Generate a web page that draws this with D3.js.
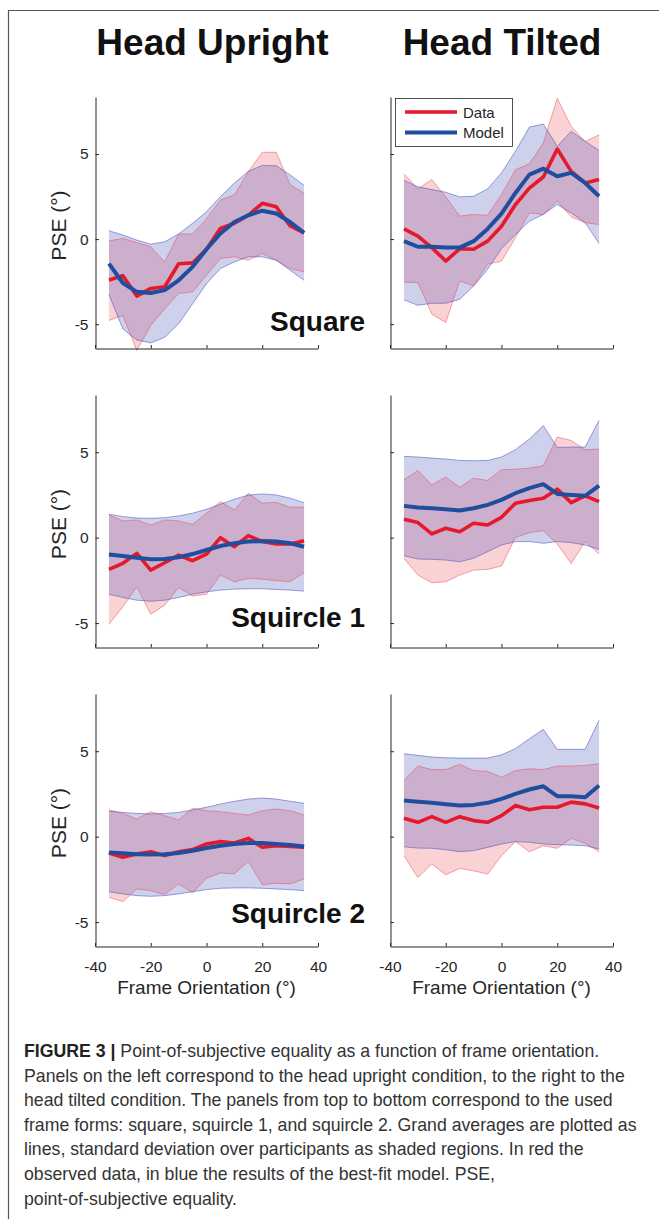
<!DOCTYPE html>
<html>
<head>
<meta charset="utf-8">
<script src="https://cdn.jsdelivr.net/npm/d3@7"></script>
<style>
  html, body { margin: 0; padding: 0; background: #fff; }
  svg { display: block; }
  text { font-family: "Liberation Sans", Arial, Helvetica, sans-serif; }
</style>
</head>
<body>
<svg id="chart" width="659" height="1219"></svg>
<script>
// ---------------- DATA ----------------
const frameOrientation = [-35, -30, -25, -20, -15, -10, -5, 0, 5, 10, 15, 20, 25, 30, 35];
const xTicks = [-40, -20, 0, 20, 40];
const yTicks = [-5, 0, 5];
const columnTitles = ["Head Upright", "Head Tilted"];
const frameForms = ["Square", "Squircle 1", "Squircle 2"];
const legendLabels = ["Data", "Model"];

// Head upright, square
const upSqData    = [-2.4, -2.15, -3.35, -2.9, -2.8, -1.45, -1.4, -0.6, 0.63, 0.93, 1.4, 2.1, 1.9, 0.77, 0.37];
const upSqDataLo  = [-4.78, -4.49, -6.55, -5.08, -4.1, -3.2, -3.1, -2.13, -1.14, -1.04, -1.24, -0.85, -1.24, -1.73, -1.93];
const upSqDataHi  = [-0.1, 0.04, -0.2, -0.45, -1.34, 0.3, 0.3, 1.2, 2.3, 2.6, 3.95, 5.1, 5.1, 3.2, 2.7];
const upSqModel   = [-1.44, -2.58, -3.1, -3.17, -3.0, -2.42, -1.63, -0.6, 0.33, 1.0, 1.4, 1.67, 1.5, 1.0, 0.37];
const upSqModelLo = [-3.25, -5.28, -5.93, -6.1, -5.77, -4.98, -3.8, -2.62, -1.73, -1.34, -1.04, -1.04, -1.24, -1.83, -2.42];
const upSqModelHi = [0.49, 0.24, -0.06, -0.3, -0.16, 0.3, 0.93, 1.61, 2.5, 3.29, 3.98, 4.33, 4.31, 3.78, 3.15];

// Head tilted, square
const tiSqData    = [0.6, 0.18, -0.5, -1.29, -0.57, -0.6, -0.12, 0.76, 2.03, 3.0, 3.65, 5.29, 3.98, 3.3, 3.5];
const tiSqDataLo  = [-2.52, -2.56, -4.41, -4.9, -2.46, -2.75, -1.48, -1.29, 0.08, 1.54, 1.45, 2.23, 1.31, 0.96, 0.86];
const tiSqDataHi  = [3.83, 2.95, 3.5, 2.48, 1.35, 1.45, 1.39, 2.62, 4.08, 4.43, 5.64, 8.28, 6.62, 5.74, 6.13];
const tiSqModel   = [-0.12, -0.45, -0.45, -0.5, -0.5, -0.12, 0.6, 1.5, 2.71, 3.79, 4.14, 3.69, 3.89, 3.3, 2.52];
const tiSqModelLo = [-3.57, -3.89, -3.77, -3.77, -3.54, -2.75, -1.78, -0.57, 0.27, 1.05, 1.45, 2.03, 1.54, 0.96, -0.25];
const tiSqModelHi = [3.46, 3.07, 2.91, 2.75, 2.48, 2.52, 2.95, 3.89, 5.16, 6.58, 6.76, 5.45, 6.33, 5.74, 5.21];

// Head upright, squircle 1
const upS1Data    = [-1.86, -1.5, -0.92, -1.9, -1.47, -1.02, -1.35, -0.96, 0.0, -0.53, 0.12, -0.23, -0.37, -0.37, -0.18];
const upS1DataLo  = [-5.07, -4.05, -2.88, -4.48, -3.95, -2.92, -3.42, -3.31, -2.19, -2.58, -2.39, -2.43, -2.52, -2.58, -2.05];
const upS1DataHi  = [1.33, 0.98, 1.04, 0.74, 1.04, 0.98, 0.78, 1.43, 2.11, 1.62, 2.6, 2.02, 2.07, 1.78, 1.78];
const upS1Model   = [-0.98, -1.08, -1.17, -1.27, -1.25, -1.15, -0.96, -0.72, -0.49, -0.33, -0.23, -0.2, -0.23, -0.33, -0.53];
const upS1ModelLo = [-3.31, -3.5, -3.66, -3.72, -3.66, -3.5, -3.31, -3.17, -3.07, -3.01, -2.99, -2.99, -3.03, -3.07, -3.13];
const upS1ModelHi = [1.37, 1.23, 1.15, 1.13, 1.17, 1.27, 1.43, 1.66, 1.96, 2.25, 2.49, 2.56, 2.5, 2.31, 2.05];

// Head tilted, squircle 1
const tiS1Data    = [1.08, 0.88, 0.22, 0.55, 0.35, 0.84, 0.74, 1.19, 2.02, 2.17, 2.31, 2.84, 2.05, 2.45, 2.11];
const tiS1DataLo  = [-1.21, -2.19, -2.64, -2.58, -2.19, -1.9, -1.86, -1.66, 0.02, 0.29, 0.41, -0.37, -1.51, -0.23, -0.96];
const tiS1DataHi  = [3.39, 3.93, 3.09, 3.54, 2.95, 3.48, 3.35, 3.97, 4.01, 4.07, 4.21, 5.89, 5.69, 5.14, 5.19];
const tiS1Model   = [1.86, 1.76, 1.72, 1.66, 1.59, 1.72, 1.92, 2.21, 2.6, 2.9, 3.13, 2.56, 2.5, 2.45, 3.05];
const tiS1ModelLo = [-1.06, -1.25, -1.27, -1.31, -1.41, -1.21, -0.82, -0.43, -0.23, -0.23, -0.33, -0.23, -0.29, -0.43, -0.68];
const tiS1ModelHi = [4.76, 4.72, 4.66, 4.6, 4.52, 4.5, 4.52, 4.72, 5.15, 5.77, 6.56, 5.28, 5.3, 5.3, 6.87];

// Head upright, squircle 2
const upS2Data    = [-0.96, -1.21, -1.01, -0.88, -1.11, -0.88, -0.76, -0.43, -0.29, -0.37, -0.1, -0.62, -0.53, -0.57, -0.62];
const upS2DataLo  = [-3.55, -3.8, -3.06, -3.16, -3.39, -2.77, -3.29, -2.44, -2.12, -2.18, -1.44, -2.81, -2.73, -2.77, -2.48];
const upS2DataHi  = [1.58, 1.36, 1.03, 1.46, 1.23, 0.99, 1.66, 1.52, 1.46, 1.36, 1.27, 1.52, 1.62, 1.52, 1.27];
const upS2Model   = [-0.92, -0.97, -1.03, -1.05, -1.03, -0.96, -0.82, -0.66, -0.53, -0.43, -0.37, -0.37, -0.43, -0.49, -0.58];
const upS2ModelLo = [-3.22, -3.35, -3.45, -3.49, -3.45, -3.35, -3.22, -3.1, -3.02, -3.0, -3.0, -3.02, -3.06, -3.1, -3.16];
const upS2ModelHi = [1.48, 1.42, 1.36, 1.33, 1.36, 1.42, 1.56, 1.72, 1.91, 2.07, 2.2, 2.26, 2.2, 2.07, 1.95];

// Head tilted, squircle 2
const tiS2Data    = [1.08, 0.84, 1.17, 0.84, 1.17, 0.94, 0.84, 1.23, 1.82, 1.57, 1.72, 1.72, 2.02, 1.92, 1.68];
const tiS2DataLo  = [-1.12, -2.39, -1.6, -2.23, -1.86, -2.0, -2.19, -1.12, -0.29, -0.88, -0.53, -0.68, -0.1, -0.39, -0.88];
const tiS2DataHi  = [3.29, 4.13, 3.93, 3.93, 4.23, 3.87, 3.82, 3.48, 3.87, 3.97, 3.93, 4.13, 4.13, 4.17, 4.27];
const tiS2Model   = [2.11, 2.05, 1.98, 1.9, 1.82, 1.86, 1.98, 2.21, 2.5, 2.76, 2.95, 2.37, 2.37, 2.31, 2.99];
const tiS2ModelLo = [-0.59, -0.67, -0.68, -0.76, -0.88, -0.82, -0.63, -0.43, -0.29, -0.33, -0.43, -0.47, -0.49, -0.53, -0.72];
const tiS2ModelHi = [4.85, 4.76, 4.66, 4.62, 4.6, 4.6, 4.6, 4.79, 5.15, 5.73, 6.28, 5.11, 5.11, 5.11, 6.81];

const captionLines = [
  ["FIGURE 3 | ", "Point-of-subjective equality as a function of frame orientation."],
  ["", "Panels on the left correspond to the head upright condition, to the right to the"],
  ["", "head tilted condition. The panels from top to bottom correspond to the used"],
  ["", "frame forms: square, squircle 1, and squircle 2. Grand averages are plotted as"],
  ["", "lines, standard deviation over participants as shaded regions. In red the"],
  ["", "observed data, in blue the results of the best-fit model. PSE,"],
  ["", "point-of-subjective equality."]
];

// ---------------- LAYOUT ----------------
const panels = [
  {col: 0, row: 0, d: upSqData, dlo: upSqDataLo, dhi: upSqDataHi, m: upSqModel, mlo: upSqModelLo, mhi: upSqModelHi},
  {col: 1, row: 0, d: tiSqData, dlo: tiSqDataLo, dhi: tiSqDataHi, m: tiSqModel, mlo: tiSqModelLo, mhi: tiSqModelHi},
  {col: 0, row: 1, d: upS1Data, dlo: upS1DataLo, dhi: upS1DataHi, m: upS1Model, mlo: upS1ModelLo, mhi: upS1ModelHi},
  {col: 1, row: 1, d: tiS1Data, dlo: tiS1DataLo, dhi: tiS1DataHi, m: tiS1Model, mlo: tiS1ModelLo, mhi: tiS1ModelHi},
  {col: 0, row: 2, d: upS2Data, dlo: upS2DataLo, dhi: upS2DataHi, m: upS2Model, mlo: upS2ModelLo, mhi: upS2ModelHi},
  {col: 1, row: 2, d: tiS2Data, dlo: tiS2DataLo, dhi: tiS2DataHi, m: tiS2Model, mlo: tiS2ModelLo, mhi: tiS2ModelHi}
];

const colX = [[95, 318], [390, 613]];
const rowY = [[348, 97], [647, 395], [946, 694]];
const yDomain = [-6.4, 8.35];
const labelBaseline = [331, 627, 923];
const titleX = [212.5, 502];

const RED = "#e6192c";
const BLUE = "#1f4e9f";
const RED_FILL = "rgba(240,80,90,0.26)";
const BLUE_FILL = "rgba(60,70,180,0.25)";
const RED_EDGE = "rgba(235,70,90,0.55)";
const BLUE_EDGE = "rgba(70,80,190,0.6)";
const AXIS = "#262626";

const svg = d3.select("#chart");
svg.append("rect").attr("width", 659).attr("height", 1219).attr("fill", "#fff");

// Frame border
svg.append("path").attr("d", "M8.5,1219 L8.5,10.5 L659,10.5")
  .attr("fill", "none").attr("stroke", "#555").attr("stroke-width", 1.2);

// Column titles
columnTitles.forEach((t, i) => {
  svg.append("text")
    .attr("x", titleX[i])
    .attr("y", 55)
    .attr("text-anchor", "middle")
    .attr("font-size", 37).attr("font-weight", "bold").attr("fill", "#111")
    .text(t);
});

const tickFmt = d => String(d);

panels.forEach(p => {
  const x = d3.scaleLinear().domain([-40, 40]).range(colX[p.col]);
  const y = d3.scaleLinear().domain(yDomain).range(rowY[p.row]);
  const g = svg.append("g");
  const idx = frameOrientation.map((v, i) => i);

  const area = (lo, hi) => d3.area().x(i => x(frameOrientation[i])).y0(i => y(lo[i])).y1(i => y(hi[i]));
  const line = arr => d3.line().x(i => x(frameOrientation[i])).y(i => y(arr[i]));

  // Red band (data)
  g.append("path").attr("d", area(p.dlo, p.dhi)(idx)).attr("fill", RED_FILL);
  // Blue band (model)
  g.append("path").attr("d", area(p.mlo, p.mhi)(idx)).attr("fill", BLUE_FILL);
  // Band edges
  [p.dlo, p.dhi].forEach(a => g.append("path").attr("d", line(a)(idx))
     .attr("fill", "none").attr("stroke", RED_EDGE).attr("stroke-width", 0.9));
  [p.mlo, p.mhi].forEach(a => g.append("path").attr("d", line(a)(idx))
     .attr("fill", "none").attr("stroke", BLUE_EDGE).attr("stroke-width", 0.9));
  // Lines
  g.append("path").attr("d", line(p.d)(idx)).attr("fill", "none")
    .attr("stroke", RED).attr("stroke-width", 3.6).attr("stroke-linejoin", "round");
  g.append("path").attr("d", line(p.m)(idx)).attr("fill", "none")
    .attr("stroke", BLUE).attr("stroke-width", 4).attr("stroke-linejoin", "round");

  // Axes
  const xAxis = d3.axisBottom(x).tickValues(xTicks).tickSizeInner(-3.5).tickSizeOuter(0).tickPadding(14)
    .tickFormat(p.row === 2 ? tickFmt : "");
  const gx = g.append("g").attr("transform", `translate(0,${rowY[p.row][0] + 0.5})`).call(xAxis);
  const yAxis = d3.axisLeft(y).tickValues(yTicks).tickSizeInner(-3.5).tickSizeOuter(0).tickPadding(7)
    .tickFormat(p.col === 0 ? tickFmt : "");
  const gy = g.append("g").attr("transform", `translate(${colX[p.col][0] + 0.5},0)`).call(yAxis);
  [gx, gy].forEach(ax => {
    ax.select(".domain").attr("stroke", AXIS).attr("stroke-width", 1);
    ax.selectAll(".tick line").attr("stroke", AXIS).attr("stroke-width", 1);
    ax.selectAll(".tick text").attr("fill", AXIS).attr("font-size", 15.5)
      .attr("font-family", '"Liberation Sans", Arial, sans-serif');
  });

  // Y label
  if (p.col === 0) {
    const cy = (rowY[p.row][0] + rowY[p.row][1]) / 2 + 3;
    svg.append("text")
      .attr("transform", `translate(66,${cy}) rotate(-90)`)
      .attr("text-anchor", "middle").attr("font-size", 21).attr("fill", AXIS)
      .text("PSE (°)");
  }
  // X label
  if (p.row === 2) {
    svg.append("text")
      .attr("x", (colX[p.col][0] + colX[p.col][1]) / 2)
      .attr("y", 994)
      .attr("text-anchor", "middle").attr("font-size", 19).attr("fill", AXIS)
      .text("Frame Orientation (°)");
  }
  // Frame form label
  if (p.col === 0) {
    svg.append("text")
      .attr("x", 365).attr("y", labelBaseline[p.row])
      .attr("text-anchor", "end").attr("font-size", 28).attr("font-weight", "bold").attr("fill", "#111")
      .text(frameForms[p.row]);
  }
  // Legend
  if (p.col === 1 && p.row === 0) {
    const lg = svg.append("g");
    lg.append("rect").attr("x", 395.5).attr("y", 98.5).attr("width", 117).attr("height", 48)
      .attr("fill", "#fff").attr("stroke", AXIS).attr("stroke-width", 0.8);
    [RED, BLUE].forEach((c, i) => {
      const ly = 112 + i * 20.5;
      lg.append("line").attr("x1", 405).attr("x2", 457).attr("y1", ly).attr("y2", ly)
        .attr("stroke", c).attr("stroke-width", i === 0 ? 3.6 : 4);
      lg.append("text").attr("x", 463).attr("y", ly + 5.5).attr("font-size", 15).attr("fill", AXIS)
        .text(legendLabels[i]);
    });
  }
});

// Caption
const capG = svg.append("g");
captionLines.forEach((ln, i) => {
  const t = capG.append("text").attr("x", 24).attr("y", 1057 + i * 24.6)
    .attr("font-size", 17.7).attr("fill", "#333");
  if (ln[0]) t.append("tspan").attr("font-weight", "bold").attr("fill", "#222").text(ln[0]);
  t.append("tspan").text(ln[1]);
});
</script>
</body>
</html>
